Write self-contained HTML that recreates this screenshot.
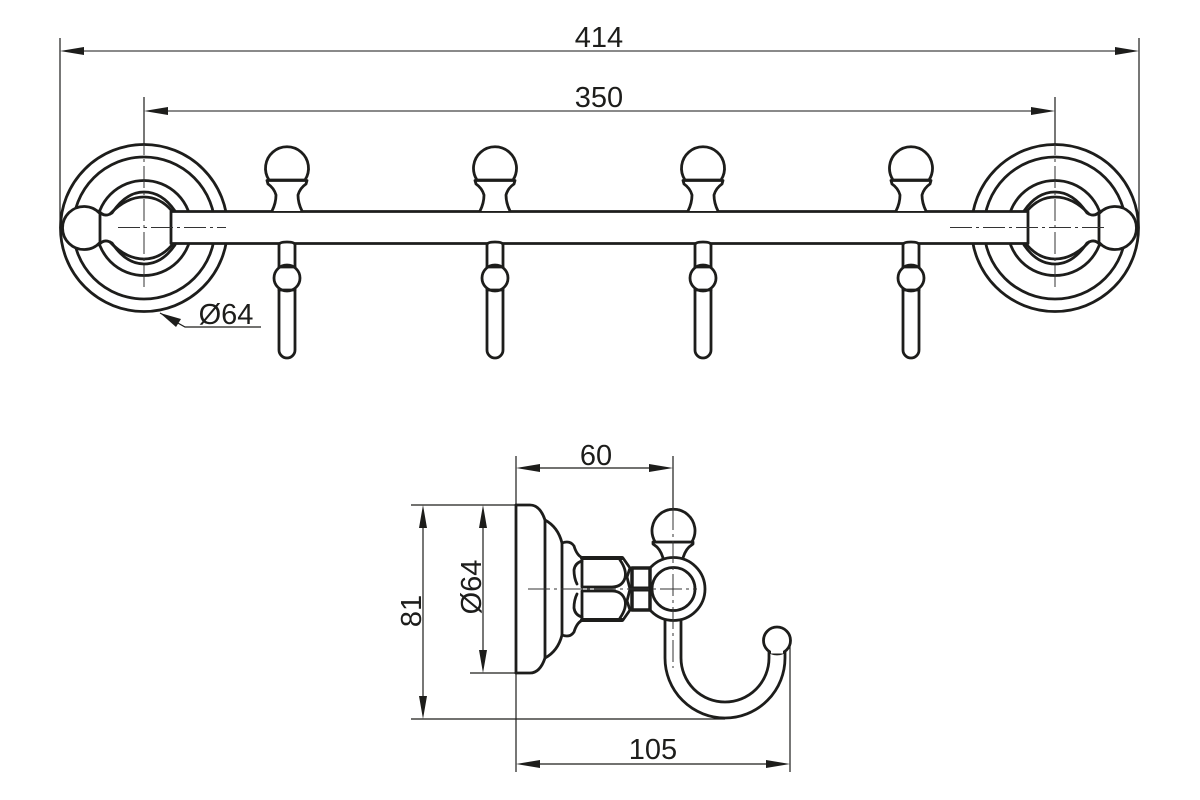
<!DOCTYPE html>
<html><head><meta charset="utf-8"><style>
html,body{margin:0;padding:0;background:#fff;width:1200px;height:800px;overflow:hidden}
svg{display:block}
text{font-family:"Liberation Sans",sans-serif;font-size:29px;fill:#1d1d1b;text-anchor:middle}
.d{stroke:#1d1d1b;stroke-width:1.2;fill:none}
.o{stroke:#1d1d1b;stroke-width:2.8;fill:none;stroke-linejoin:round;stroke-linecap:round}
.w{stroke:#1d1d1b;stroke-width:2.8;fill:#fff;stroke-linejoin:round;stroke-linecap:round}
.c{stroke:#333;stroke-width:1;fill:none;stroke-dasharray:22 4 3 4}
.a{fill:#1d1d1b;stroke:none}
</style></head><body>
<svg width="1200" height="800" viewBox="0 0 1200 800" xmlns="http://www.w3.org/2000/svg">
<defs>
<g id="rose">
<circle class="o" cx="144" cy="228" r="83.5"/>
<circle class="o" cx="144" cy="228" r="71"/>
<circle class="o" cx="144" cy="228" r="47.5"/>
<path class="w" d="M99 211 Q104 218 112 213 Q126 192 144 192 Q162 192 175 211 L175 245 Q162 264 144 264 Q126 264 112 243 Q104 238 99 245Z"/>
<path class="o" d="M110 214 Q126 197 144 197 Q160 197 172 211 M110 242 Q126 259 144 259 Q160 259 172 245"/>
<path class="w" d="M100 213.600 A21.500 21.500 0 1 0 100 242.400Z"/>
<path class="c" d="M144 100 V290"/>
</g>
<g id="hook">
<path class="w" d="M-15 211 Q-11 203 -11 195 Q-13 188 -19 184 L-20 180.500 L20 180.500 L19 184 Q13 188 11 195 Q11 203 15 211"/>
<path class="w" d="M-18 180 A21.500 21.500 0 1 1 18 180Z"/>
<path class="w" d="M-8 245 Q-8 242 0 242 Q8 242 8 245 V350 A8 8 0 0 1 -8 350Z"/>
<circle class="w" cx="0" cy="278" r="13"/>
<path class="o" d="M-8 267 H8 M-8 290 H8"/>
</g>
</defs>

<use href="#rose"/>
<use href="#rose" transform="translate(1199,0) scale(-1,1)"/>
<rect class="w" x="171" y="211.500" width="857" height="32"/>
<path class="c" d="M118 227.500 H226 M950 227.500 H1105"/>
<use href="#hook" x="287"/>
<use href="#hook" x="495"/>
<use href="#hook" x="703"/>
<use href="#hook" x="911"/>

<!-- top dimensions -->
<path class="d" d="M60 38 V228 M1139 38 V228 M144 97 V144 M1055 97 V144"/>
<path class="d" style="stroke:#444" d="M70 51 H1130 M154 111 H1045"/>
<path class="a" d="M60 51 L84 47 V55Z M1139 51 L1115 47 V55Z M144 111 L168 107 V115Z M1055 111 L1031 107 V115Z"/>
<text x="599" y="47">414</text>
<text x="599" y="107">350</text>
<path class="d" d="M160 313 L185 327 H261"/>
<path class="a" d="M160 313 L181 319 L176 327Z"/>
<text x="226" y="324">Ø64</text>

<!-- side view -->
<path class="d" d="M516 456 V772 M673 456 V508 M790 640 V772 M411 505 H516 M470 673 H516 M411 719 H725"/>
<path class="a" d="M516 468 L540 464 V472Z M673 468 L649 464 V472Z M516 764 L540 760 V768Z M790 764 L766 760 V768Z"/>
<path class="a" d="M423 505 L419 528 H427Z M423 719 L419 696 H427Z M483 505 L479 528 H487Z M483 673 L479 650 H487Z"/>
<path class="d" d="M530 468 H660 M530 764 H776 M423 515 V710 M483 515 V664"/>
<text x="596" y="465">60</text>
<text x="653" y="759">105</text>
<text transform="translate(421,611) rotate(-90)">81</text>
<text transform="translate(481,587) rotate(-90)">Ø64</text>

<path class="o" stroke-width="3.500" d="M516 505 V673"/>
<path class="o" d="M516 505 H530 Q540 505 545 520 V658 Q540 673 530 673 H516"/>
<path class="o" d="M545 520 Q558 527 562 543 V635 Q558 651 545 658"/>
<path class="o" d="M562 543 Q570 540 574 546 Q577 556 583 558 H623 L630 568 L627 577 L630 589 L627 601 L630 610 L623 620 H583 Q577 622 574 632 Q570 638 562 635"/>
<path class="o" style="stroke-width:4" d="M582 558 H622 M582 620 H622"/>
<path class="o" d="M582 561 Q575 563 574 570 Q574 578 577 584 M582 617 Q575 615 574 608 Q574 600 577 594"/>
<path class="o" d="M582 560 V586 M582 592 V618"/>
<path class="o" d="M620 560 Q627 570 625 578 Q622 587 612 587 H582 M620 618 Q627 608 625 600 Q622 591 612 591 H582"/>

<path class="w" d="M665 610 V658 A60 60 0 0 0 785 658 V650 H769 V658 A44 44 0 0 1 681 658 V610Z"/>
<circle class="w" cx="777" cy="640.500" r="13.500"/>
<path d="M771 652 H783" style="stroke:#fff;stroke-width:3;fill:none"/>
<path class="w" d="M664 562 Q662 552 657 547 L653 544 L653 542 H693 L693 544 L689 547 Q684 552 682 562Z"/>
<path class="w" d="M655.200 542 A21.500 21.500 0 1 1 691.800 542Z"/>
<circle class="w" cx="673.500" cy="589" r="31.500"/>
<rect class="w" x="632" y="568" width="18" height="42" style="stroke-width:3.500"/>
<path class="o" style="stroke-width:5" d="M632 589 H650"/>
<circle class="w" cx="673.500" cy="589" r="21.500"/>
<path class="c" d="M673 508 V668"/>
<path class="c" d="M528 589 H697"/>
</svg>
</body></html>
